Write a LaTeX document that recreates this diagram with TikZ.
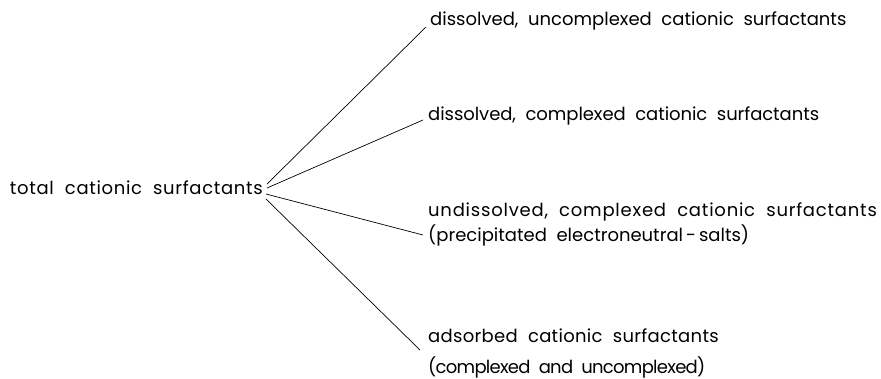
\documentclass[tikz,border=0pt]{standalone}
\usepackage{fontspec}
\setmainfont{Poppins}[WordSpace=2]
\newcommand\lsp[2]{{\addfontfeature{LetterSpace=#1}#2}}
\begin{document}
\begin{tikzpicture}[x=1pt,y=-1pt,
  lbl/.style={anchor=base west,inner sep=0pt,font=\fontsize{18}{25}\selectfont,align=left},
  conn/.style={line width=0.7pt}]
\useasboundingbox (0,0) rectangle (881,378);
\node[lbl,anchor=base east] (root) at (263,194) {\lsp{3.8}{total cationic surfactants}};
\node[lbl] (c1) at (430,25) {\lsp{0}{dissolved, uncomplexed cationic surfactants}};
\node[lbl] (c2) at (428,120) {\lsp{-0.3}{dissolved, complexed cationic surfactants}};
\node[lbl] (c3) at (428,241) {\lsp{4.3}{undissolved, complexed cationic surfactants}\\\lsp{0}{(precipitated electroneutral\,-\,salts)}};
\node[lbl,font=\fontsize{18}{31}\selectfont] (c4) at (428,373) {\lsp{1.7}{adsorbed cationic surfactants}\\\lsp{-4}{(complexed and uncomplexed)}};
\coordinate (r1) at (267,184);
\coordinate (r2) at (267,188);
\coordinate (r3) at (266,194);
\coordinate (r4) at (266,199);
\coordinate (e1) at (426,27);
\coordinate (e2) at (423,120);
\coordinate (e3) at (423,235);
\coordinate (e4) at (420,350);
\draw[conn] (r1) -- (e1);
\draw[conn] (r2) -- (e2);
\draw[conn] (r3) -- (e3);
\draw[conn] (r4) -- (e4);
\end{tikzpicture}
\end{document}
